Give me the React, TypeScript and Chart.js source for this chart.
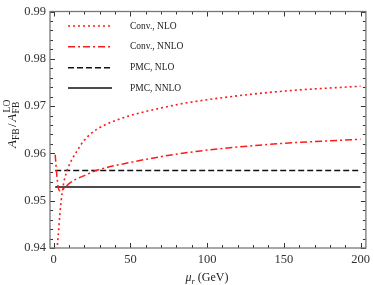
import React, { useEffect, useRef } from "react";
import { Chart, registerables } from "chart.js";

Chart.register(...registerables);

// ---- data ----
const seriesNames = ["Conv., NLO", "Conv., NNLO", "PMC, NLO", "PMC, NNLO"];

const convNloMu = [2, 2.4, 3, 4, 5, 6, 7, 8.8, 10, 12.7, 15, 19, 24, 32, 50, 70, 87, 118, 151, 200];
const convNloVal = [0.9385, 0.9405, 0.9428, 0.9470, 0.9503, 0.9527, 0.9545, 0.9564, 0.9575, 0.9592, 0.9604, 0.9624, 0.9641, 0.9658, 0.9680, 0.9696, 0.9707, 0.9721, 0.9732, 0.9742];

const convNnloMu = [1, 2, 3, 4, 5, 6, 8, 10, 13.8, 20, 27, 50, 88, 140, 200];
const convNnloVal = [0.9597, 0.9555, 0.9528, 0.9521, 0.9521, 0.9524, 0.9530, 0.9536, 0.9544, 0.9553, 0.9563, 0.9581, 0.9602, 0.9619, 0.9630];

const pmcMu = [1, 200];
const pmcNloVal = [0.9564, 0.9564];
const pmcNnloVal = [0.9529, 0.9529];

const xTicks = [0, 50, 100, 150, 200];
const yTicks = [0.94, 0.95, 0.96, 0.97, 0.98, 0.99];

const toPts = (xs: number[], ys: number[]) => xs.map((x, i) => ({ x, y: ys[i] }));

const SERIF = "'Liberation Serif', 'DejaVu Serif', serif";

const framePlugin = {
  id: "frameTicks",
  afterDraw(chart: any) {
    const { ctx, chartArea: a, scales } = chart;
    const xs = scales.x;
    const ys = scales.y;
    ctx.save();
    // ticks inward on all 4 sides
    ctx.strokeStyle = "#333";
    ctx.lineWidth = 1;
    ctx.beginPath();
    for (let v = 0; v <= 200.001; v += 10) {
      const px = Math.round(xs.getPixelForValue(v)) + 0.5;
      const len = Math.abs(v % 50) < 1e-6 ? 5 : 3;
      ctx.moveTo(px, a.bottom);
      ctx.lineTo(px, a.bottom - len);
      ctx.moveTo(px, a.top);
      ctx.lineTo(px, a.top + len);
    }
    for (let k = 0; k <= 25; k++) {
      const v = 0.94 + k * 0.002;
      const py = Math.round(ys.getPixelForValue(v)) + 0.5;
      const len = k % 5 === 0 ? 5 : 3;
      ctx.moveTo(a.left, py);
      ctx.lineTo(a.left + len, py);
      ctx.moveTo(a.right, py);
      ctx.lineTo(a.right - len, py);
    }
    ctx.stroke();
    // frame
    ctx.strokeStyle = "#777";
    ctx.lineWidth = 1.3;
    ctx.strokeRect(a.left, a.top, a.right - a.left, a.bottom - a.top);

    // legend (inside plot)
    const rowsY = [26, 46.7, 67.8, 88];
    chart.data.datasets.forEach((ds: any, i: number) => {
      const y = rowsY[i];
      ctx.save();
      ctx.strokeStyle = ds.borderColor;
      ctx.lineWidth = ds.borderWidth;
      ctx.setLineDash(ds.borderDash || []);
      ctx.beginPath();
      ctx.moveTo(68, y);
      ctx.lineTo(112, y);
      ctx.stroke();
      ctx.restore();
      ctx.fillStyle = "#222";
      ctx.font = `9.5px ${SERIF}`;
      ctx.textBaseline = "middle";
      ctx.textAlign = "left";
      ctx.fillText(ds.label, 130, y);
    });

    // y axis title: A_FB / A_FB^LO
    ctx.save();
    ctx.translate(15.5, 148);
    ctx.rotate(-Math.PI / 2);
    ctx.fillStyle = "#222";
    ctx.textBaseline = "alphabetic";
    ctx.textAlign = "left";
    let x = 0;
    const big = `italic 13px ${SERIF}`;
    const bigUp = `13px ${SERIF}`;
    const small = `9.5px ${SERIF}`;
    ctx.font = big;
    ctx.fillText("A", x, 0);
    x += ctx.measureText("A").width;
    ctx.font = small;
    ctx.fillText("FB", x, 3);
    x += ctx.measureText("FB").width + 1.5;
    ctx.font = bigUp;
    ctx.fillText("/", x, 0);
    x += ctx.measureText("/").width + 1.5;
    ctx.font = big;
    ctx.fillText("A", x, 0);
    x += ctx.measureText("A").width + 0.5;
    ctx.font = small;
    ctx.fillText("LO", x + 1, -5.5);
    ctx.fillText("FB", x, 3);
    ctx.restore();

    // x axis title: mu_r (GeV)
    ctx.fillStyle = "#222";
    ctx.textBaseline = "alphabetic";
    ctx.textAlign = "left";
    ctx.font = `italic 12px ${SERIF}`;
    const wMu = ctx.measureText("μ").width;
    ctx.font = `italic 8.5px ${SERIF}`;
    const wR = ctx.measureText("r").width;
    ctx.font = `12px ${SERIF}`;
    const wRest = ctx.measureText(" (GeV)").width;
    const total = wMu + wR + wRest;
    let sx = 207 - total / 2;
    const by = 281;
    ctx.font = `italic 12px ${SERIF}`;
    ctx.fillText("μ", sx, by);
    sx += wMu;
    ctx.font = `italic 8.5px ${SERIF}`;
    ctx.fillText("r", sx, by + 2.5);
    sx += wR;
    ctx.font = `12px ${SERIF}`;
    ctx.fillText(" (GeV)", sx, by);
    ctx.restore();
  },
};

export default function App() {
  const ref = useRef<HTMLCanvasElement | null>(null);

  useEffect(() => {
    if (!ref.current) return;
    const chart = new Chart(ref.current, {
      type: "line",
      data: {
        datasets: [
          {
            label: seriesNames[0],
            data: toPts(convNloMu, convNloVal),
            borderColor: "#ff1a1a",
            borderWidth: 1.6,
            borderDash: [2, 3],
            pointRadius: 0,
            cubicInterpolationMode: "monotone",
          },
          {
            label: seriesNames[1],
            data: toPts(convNnloMu, convNnloVal),
            borderColor: "#ff1a1a",
            borderWidth: 1.5,
            borderDash: [7, 3, 2, 3],
            pointRadius: 0,
            cubicInterpolationMode: "monotone",
          },
          {
            label: seriesNames[2],
            data: toPts(pmcMu, pmcNloVal),
            borderColor: "#111",
            borderWidth: 1.5,
            borderDash: [6, 3],
            pointRadius: 0,
          },
          {
            label: seriesNames[3],
            data: toPts(pmcMu, pmcNnloVal),
            borderColor: "#111",
            borderWidth: 1.5,
            borderDash: [],
            pointRadius: 0,
          },
        ],
      },
      options: {
        responsive: false,
        animation: false,
        layout: { padding: { left: 0, right: 5.5, top: 8, bottom: 0 } },
        plugins: { legend: { display: false }, tooltip: { enabled: false } },
        scales: {
          x: {
            type: "linear",
            min: -2.4,
            max: 203.5,
            grid: { display: false, drawTicks: false },
            border: { display: false },
            afterFit: (s: any) => {
              s.height = 37;
            },
            afterBuildTicks: (s: any) => {
              s.ticks = xTicks.map((v) => ({ value: v }));
            },
            ticks: {
              includeBounds: false,
              padding: 4,
              color: "#333",
              font: { family: SERIF, size: 12.5 },
              maxRotation: 0,
              callback: (v: any) => String(v),
            },
          },
          y: {
            type: "linear",
            min: 0.94,
            max: 0.99,
            grid: { display: false, drawTicks: false },
            border: { display: false },
            afterFit: (s: any) => {
              s.width = 50;
            },
            afterBuildTicks: (s: any) => {
              s.ticks = yTicks.map((v) => ({ value: v }));
            },
            ticks: {
              includeBounds: false,
              padding: 4,
              color: "#333",
              font: { family: SERIF, size: 12.5 },
              callback: (v: any) => Number(v).toFixed(2),
            },
          },
        },
      },
      plugins: [framePlugin],
    } as any);
    return () => chart.destroy();
  }, []);

  return (
    <div style={{ position: "fixed", left: 0, top: 0, width: 374, height: 285, background: "#fff" }}>
      <canvas ref={ref} width={374} height={285} style={{ display: "block" }} />
    </div>
  );
}
